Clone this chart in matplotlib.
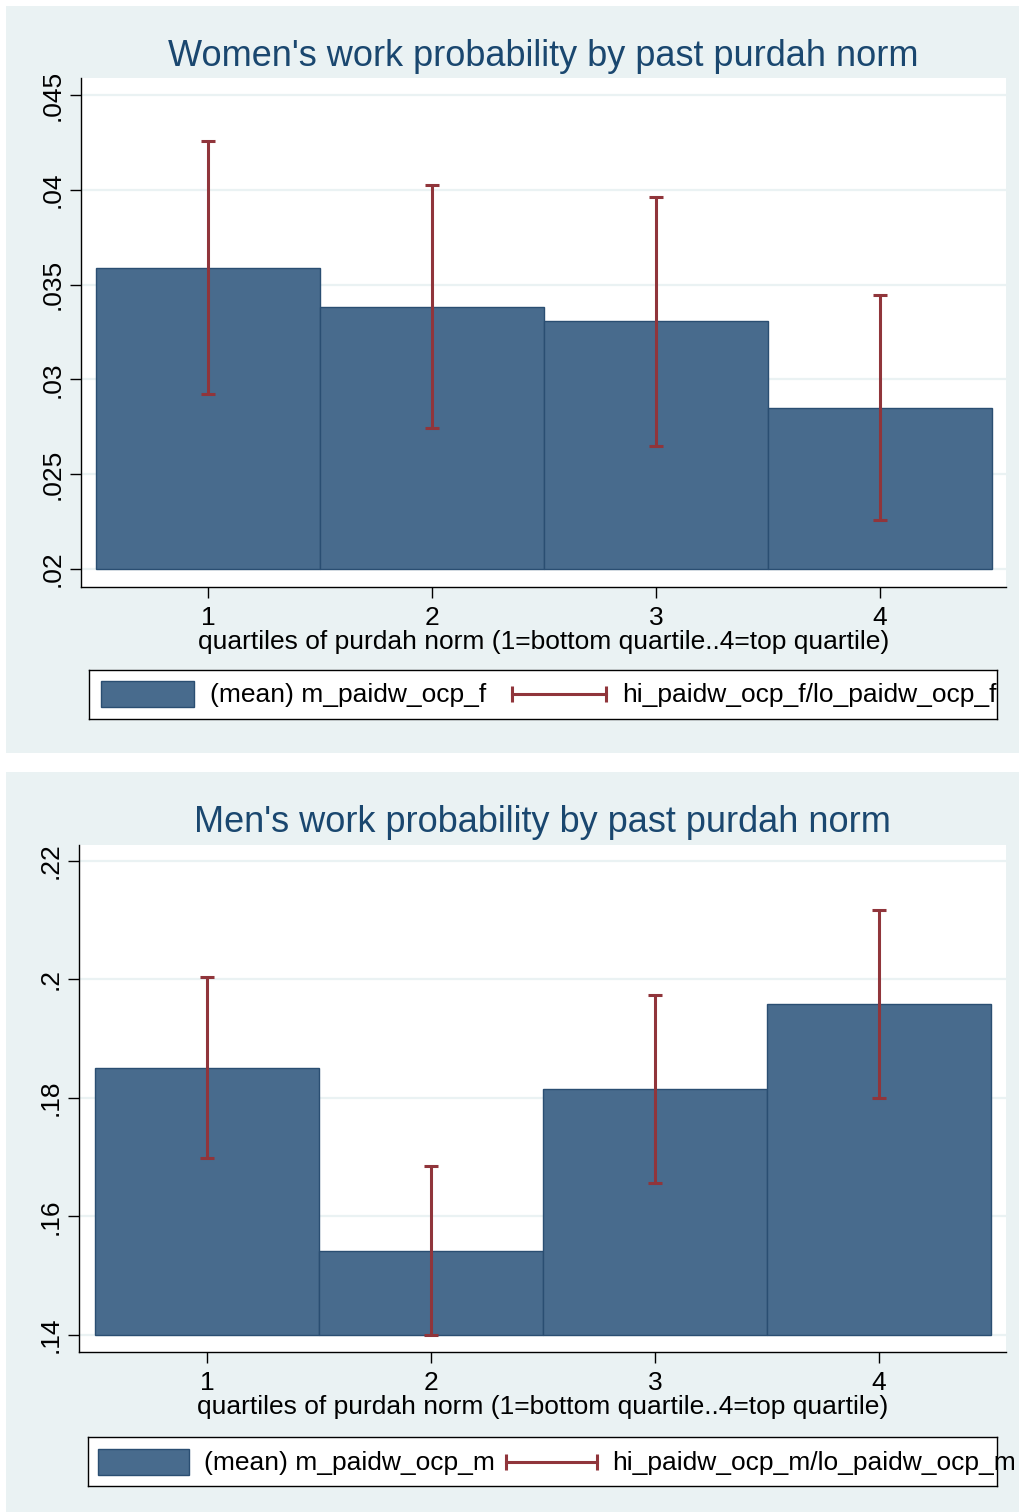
import matplotlib
matplotlib.use("Agg")
import matplotlib.pyplot as plt
from matplotlib.patches import Rectangle

# data
quartiles = [1, 2, 3, 4]
women_mean = [0.03588, 0.03382, 0.03308, 0.02849]
women_hi = [0.04257, 0.04025, 0.03962, 0.03445]
women_lo = [0.02923, 0.02744, 0.02649, 0.02258]
women_yticks = [0.02, 0.025, 0.03, 0.035, 0.04, 0.045]
women_ylabels = [".02", ".025", ".03", ".035", ".04", ".045"]

men_mean = [0.18506, 0.15418, 0.18152, 0.19586]
men_hi = [0.20042, 0.16852, 0.19738, 0.21173]
men_lo = [0.16987, 0.14000, 0.16565, 0.18000]
men_yticks = [0.14, 0.16, 0.18, 0.2, 0.22]
men_ylabels = [".14", ".16", ".18", ".2", ".22"]

BG = "#EAF2F3"
BAR = "#486B8D"
BAR_EDGE = "#2A4E72"
ERR = "#90353B"
NAVY = "#1A476F"
FONT = "Liberation Sans"
FS = 19

W, H = 1020, 1512
fig = plt.figure(figsize=(W / 100, H / 100), dpi=100)
fig.patch.set_facecolor("white")


def px_box(x0, y0, x1, y1):
    # pixel box (top-left origin) -> figure fraction rect
    return [x0 / W, 1 - y1 / H, (x1 - x0) / W, (y1 - y0) / H]


def panel(bg_box, ax_box, title, title_y, means, his, los, base, yticks, ylabels,
          ylim, xlim, leg_box, leg1, leg2, leg_pos):
    fig.patches.append(Rectangle((bg_box[0] / W, 1 - bg_box[3] / H),
                                 (bg_box[2] - bg_box[0]) / W, (bg_box[3] - bg_box[1]) / H,
                                 transform=fig.transFigure, facecolor=BG,
                                 edgecolor="none", zorder=-10))
    ax = fig.add_axes(px_box(*ax_box))
    ax.set_facecolor("white")
    heights = [m - base for m in means]
    ax.bar(quartiles, heights, bottom=base, width=1.0, color=BAR,
           edgecolor=BAR_EDGE, linewidth=1.0, zorder=2)
    centers = quartiles
    ax.vlines(centers, los, his, color=ERR, linewidth=2.2, zorder=3)
    ax.plot(centers, his, linestyle="none", marker="_", markersize=10,
            markeredgewidth=2.2, color=ERR, zorder=3)
    ax.plot(centers, los, linestyle="none", marker="_", markersize=10,
            markeredgewidth=2.2, color=ERR, zorder=3)
    ax.set_ylim(*ylim)
    ax.set_xlim(*xlim)
    ax.set_yticks(yticks)
    ax.set_yticklabels(ylabels, rotation=90, va="center", family=FONT, fontsize=FS)
    ax.set_xticks(quartiles)
    ax.set_xticklabels([str(q) for q in quartiles], family=FONT, fontsize=FS)
    ax.grid(axis="y", color=BG, linewidth=1.6, zorder=0)
    ax.set_axisbelow(True)
    for s in ["top", "right"]:
        ax.spines[s].set_visible(False)
    for s in ["left", "bottom"]:
        ax.spines[s].set_color("black")
        ax.spines[s].set_linewidth(1.0)
    ax.tick_params(length=8, width=1.0, color="black", pad=4)
    ax.tick_params(axis="x", pad=6)
    ax.set_xlabel("quartiles of purdah norm (1=bottom quartile..4=top quartile)",
                  family=FONT, fontsize=FS, labelpad=0)
    fig.text((ax_box[0] + ax_box[2]) / 2 / W, 1 - title_y / H, title,
             ha="center", va="center", family=FONT, fontsize=26, color=NAVY)

    # legend box drawn in pixel coordinates
    lax = fig.add_axes(px_box(*leg_box))
    lax.set_xlim(leg_box[0], leg_box[2])
    lax.set_ylim(leg_box[3], leg_box[1])
    lax.set_xticks([])
    lax.set_yticks([])
    lax.set_facecolor("white")
    for s in lax.spines.values():
        s.set_linewidth(1.0)
        s.set_color("black")
    cy = (leg_box[1] + leg_box[3]) / 2
    px0, px1, t1, ex0, ex1, t2 = leg_pos
    lax.add_patch(Rectangle((px0, cy - 13), px1 - px0, 26, facecolor=BAR,
                            edgecolor=BAR_EDGE, linewidth=1.0))
    lax.text(t1, cy + 1, leg1, va="center", ha="left", family=FONT, fontsize=FS)
    lax.plot([ex0, ex1], [cy, cy], color=ERR, linewidth=2.2)
    lax.plot([ex0, ex1], [cy, cy], linestyle="none", marker="|", markersize=12,
             markeredgewidth=2.2, color=ERR)
    lax.text(t2, cy + 1, leg2, va="center", ha="left", family=FONT, fontsize=FS,
             clip_on=False)
    return ax


panel((6, 6, 1020, 753), (81, 78, 1006, 587),
      "Women's work probability by past purdah norm", 56,
      women_mean, women_hi, women_lo, 0.02, women_yticks, women_ylabels,
      (0.019051, 0.045897), (0.432, 4.563),
      (89, 670, 997, 719), "(mean) m_paidw_ocp_f", "hi_paidw_ocp_f/lo_paidw_ocp_f",
      (101, 194, 210, 512, 606, 622))

panel((6, 772, 1020, 1512), (79, 845, 1006, 1352),
      "Men's work probability by past purdah norm", 823,
      men_mean, men_hi, men_lo, 0.14, men_yticks, men_ylabels,
      (0.13713, 0.2227), (0.428, 4.568),
      (88, 1437, 997, 1486), "(mean) m_paidw_ocp_m", "hi_paidw_ocp_m/lo_paidw_ocp_m",
      (98, 189, 204, 506, 597, 612))

fig.savefig("out.png", dpi=100, facecolor=fig.get_facecolor())
